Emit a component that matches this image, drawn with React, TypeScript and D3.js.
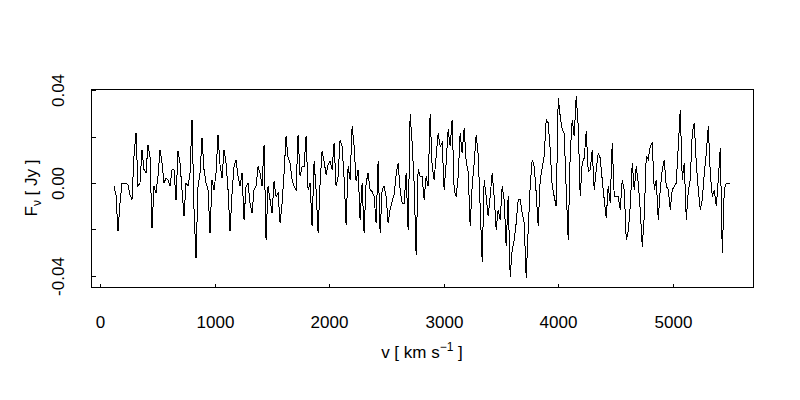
import React from 'react';
import * as d3 from 'd3';

// Spectrum: flux density (Jy) per channel, uniform velocity grid
const V_START = 122; // km/s of first channel
const V_STEP = 17.47; // km/s per channel

const flux = [
  -0.0014, -0.0050, -0.0209, -0.0087, 0, 0, 0, -0.0007, -0.0050, -0.0072, 0.0115, 0.0216, -0.0014, 0, 0.0144, 0.0058, 0.0043, 0.0166, 0.0115, -0.0195, -0.0014, -0.0043, 0.0029, 0.0144, 0.0087, 0, 0.0022, 0.0014, -0.0014, 0.0058, 0.0058, -0.0072, 0.0137, 0.0087, -0.0029, -0.0144, 0, -0.0014, 0.0043, 0.0274, -0.0115, -0.0324, -0.0014,
  0.0043, 0.0195, 0.0058, 0, -0.0029, -0.0216, 0.0014, -0.0029, 0.0043, 0.0209, 0.0079, 0.0022, 0.0144, 0.0087, -0.0029, -0.0209, -0.0043, 0.0072, 0.0101, 0.0029, -0.0014, 0.0043, -0.0159, -0.0014, 0, -0.0087, -0.0130, -0.0029, -0.0014, 0.0072, 0.0043, -0.0014, 0.0166, -0.0245, -0.0014, -0.0072, -0.0130, 0.0007, -0.0058, -0.0043, -0.0173, -0.0087, 0.0043,
  0.0202, 0.0108, 0.0087, 0.0014, -0.0014, -0.0029, 0.0209, 0.0029, 0.0072, 0.0072, 0.0202, -0.0029, 0, -0.0187, 0.0094, -0.0029, -0.0216, 0, 0.0137, 0.0094, 0.0036, 0.0079, 0.0094, 0.0058, 0.0173, -0.0014, 0.0029, 0.0187, 0.0159, 0.0022, -0.0180, 0.0072, 0.0014, 0.0245, 0.0159, 0.0007, 0.0058, -0.0159, 0, -0.0216, 0, 0.0043, -0.0029, -0.0036,
  -0.0058, -0.0173, 0.0094, -0.0216, -0.0029, -0.0014, -0.0058, -0.0173, -0.0115, -0.0079, -0.0050, 0.0036, 0.0087, -0.0029, -0.0087, -0.0087, 0.0043, -0.0202, 0.0296, 0.0173, 0, -0.0310, 0.0058, 0.0029, 0.0029, -0.0072, 0.0029, -0.0014, 0.0296, 0.0072, 0.0014, 0.0115, 0.0216, 0.0159, 0.0173, -0.0029, 0.0087, 0.0231, 0.0159, 0.0274, -0.0029, -0.0058, 0.0029,
  0.0216, 0.0130, 0.0238, 0.0094, 0.0050, -0.0187, -0.0014, 0.0087, 0.0209, 0.0123, -0.0101, -0.0339, 0.0014, -0.0058, -0.0144, -0.0058, 0.0043, -0.0058, -0.0202, -0.0115, -0.0159, -0.0014, -0.0072, -0.0274, -0.0058, -0.0404, -0.0288, -0.0245, -0.0173, -0.0072, -0.0072, -0.0130, -0.0173, -0.0411, -0.0202, -0.0014, 0.0101, 0.0072, -0.0043, -0.0187, 0.0014, 0.0065, 0.0115, 0.0274,
  0.0260, 0.0144, -0.0014, -0.0058, -0.0101, 0.0368, 0.0288, 0.0231, 0.0216, -0.0029, -0.0245, 0.0130, 0.0274, 0.0202, 0.0375, 0.0245, -0.0058, 0.0087, 0.0108, 0.0223, 0.0050, 0.0058, 0.0144, -0.0029, 0.0058, 0.0130, 0.0108, 0.0014, -0.0072, -0.0151, -0.0014, -0.0087, 0.0173, -0.0058, -0.0058, -0.0058, -0.0115, 0.0014, -0.0029, -0.0245, -0.0209, -0.0101, 0.0087,
  -0.0029, 0.0072, 0, -0.0115, -0.0274, -0.0144, 0.0115, 0.0101, 0.0159, 0.0173, -0.0029, 0.0014, -0.0159, -0.0029, 0.0058, 0.0101, -0.0014, -0.0029, -0.0115, -0.0029, -0.0014, 0, 0.0159, 0.0317, 0.0014, 0.0087, -0.0159, -0.0036, 0.0014, 0.0216, 0.0260, 0.0087, -0.0029, -0.0115, -0.0072, 0.0043, 0.0130, 0.0245, 0.0043, -0.0058, -0.0029, -0.0101, 0.0014, 0.0151, -0.0303, -0.0029, 0, 0, 0,
];

const xTicks = [0, 1000, 2000, 3000, 4000, 5000];
const xTickLabels = ['0', '1000', '2000', '3000', '4000', '5000'];
const yTicks = [-0.04, -0.02, 0, 0.02, 0.04];
const yTickLabels = ['-0.04', '', '0.00', '', '0.04'];

const W = 800;
const H = 400;
const LEFT = 91;
const RIGHT = 753;
const TOP = 89;
const BOTTOM = 287;
const FONT = "'Liberation Sans', Arial, Helvetica, sans-serif";
const FS = 17;

export default function App() {
  const points: [number, number][] = flux.map((f, i) => [V_START + i * V_STEP, f]);
  const x = d3.scaleLinear().domain([-78.6, 5701]).range([LEFT, RIGHT]);
  const y = d3.scaleLinear().domain([-0.0449, 0.0406]).range([BOTTOM, TOP]);
  const line = d3
    .line<[number, number]>()
    .x((d) => x(d[0]))
    .y((d) => y(d[1]))
    .curve(d3.curveLinear);

  const TL = 4;
  return (
    <svg
      width={W}
      height={H}
      style={{ position: 'absolute', left: 0, top: 0, background: '#fff' }}
      fontFamily={FONT}
    >
      <rect x={0} y={0} width={W} height={H} fill="#fff" />
      <path d={line(points) || ''} fill="none" stroke="#000" strokeWidth={1} shapeRendering="crispEdges" />
      <rect
        x={LEFT + 0.5}
        y={TOP + 0.5}
        width={RIGHT - LEFT}
        height={BOTTOM - TOP}
        fill="none"
        stroke="#000"
        strokeWidth={1}
        shapeRendering="crispEdges"
      />
      {xTicks.map((t, i) => {
        const px = Math.round(x(t)) + 0.5;
        return (
          <g key={'x' + t}>
            <line x1={px} x2={px} y1={BOTTOM + 0.5} y2={BOTTOM + 0.5 - TL} stroke="#000" shapeRendering="crispEdges" />
            <text x={px} y={328} textAnchor="middle" fontSize={FS} fill="#000">
              {xTickLabels[i]}
            </text>
          </g>
        );
      })}
      {yTicks.map((t, i) => {
        const py = Math.round(y(t)) + 0.5;
        return (
          <g key={'y' + t}>
            <line x1={LEFT + 0.5} x2={LEFT + 0.5 + TL} y1={py} y2={py} stroke="#000" shapeRendering="crispEdges" />
            {yTickLabels[i] && (
              <text transform={`translate(64,${py}) rotate(-90)`} textAnchor="middle" fontSize={FS} fill="#000">
                {yTickLabels[i]}
              </text>
            )}
          </g>
        );
      })}
      <text x={(LEFT + RIGHT) / 2} y={358} textAnchor="middle" fontSize={FS} fill="#000">
        v [ km s<tspan dy={-7} fontSize={12}>−1</tspan>
        <tspan dy={7}> ]</tspan>
      </text>
      <text transform={`translate(37,${(TOP + BOTTOM) / 2}) rotate(-90)`} textAnchor="middle" fontSize={FS} fill="#000">
        F<tspan dy={4} fontSize={12}>ν</tspan>
        <tspan dy={-4}> [ Jy ]</tspan>
      </text>
    </svg>
  );
}
